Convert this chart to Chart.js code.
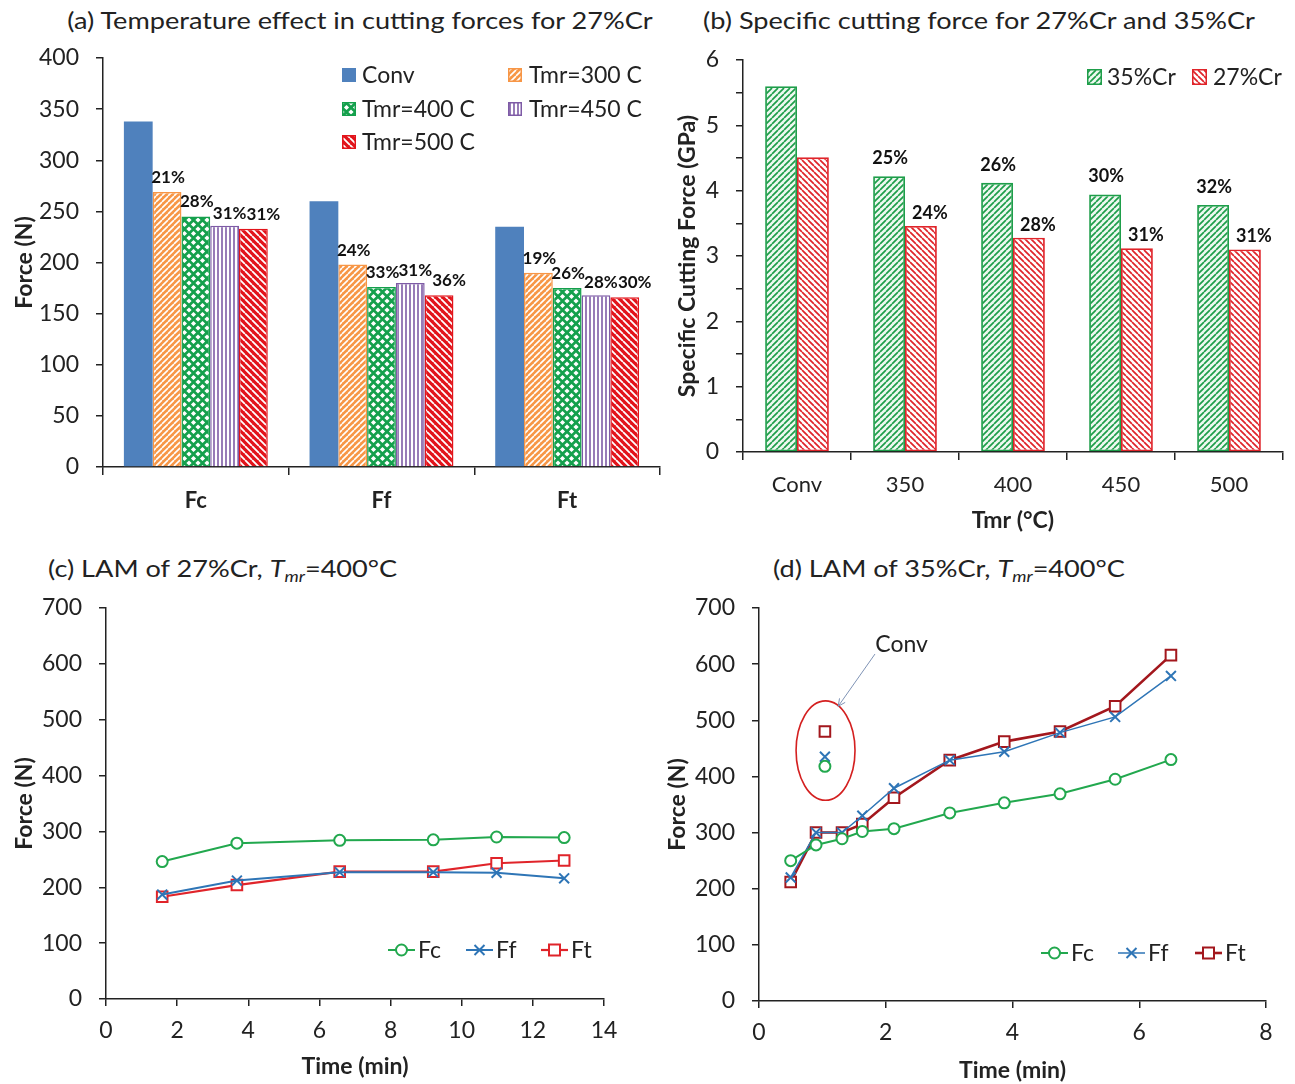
<!DOCTYPE html>
<html>
<head>
<meta charset="utf-8">
<script src="https://cdn.jsdelivr.net/npm/chart.js@4.4.1/dist/chart.umd.min.js"></script>
<style>
  body { margin: 0; background: #fff; width: 1295px; height: 1084px; position: relative; overflow: hidden; font-family: Lato, sans-serif; color: #222; }
  canvas { position: absolute; }
  .ttl { position: absolute; font-size: 24px; line-height: 24px; white-space: nowrap; transform: scaleX(1.13); }
  .ttl sub { font-size: 16px; line-height: 0; vertical-align: -5px; }
</style>
</head>
<body>
<div class="ttl" style="left:0;width:720px;text-align:center;top:8px">(a) Temperature effect in cutting forces for 27%Cr</div>
<div class="ttl" style="left:679px;width:600px;text-align:center;top:8px">(b) Specific cutting force for 27%Cr and 35%Cr</div>
<div class="ttl" style="left:48px;top:556px;transform-origin:left center">(c) LAM of 27%Cr, <i>T<sub>mr</sub></i>=400°C</div>
<div class="ttl" style="left:773px;top:556px;transform-origin:left center">(d) LAM of 35%Cr, <i>T<sub>mr</sub></i>=400°C</div>

<canvas id="chartA" width="670" height="490" style="left:0;top:40px"></canvas>
<canvas id="chartB" width="625" height="500" style="left:670px;top:40px"></canvas>
<canvas id="chartC" width="650" height="499" style="left:0;top:585px"></canvas>
<canvas id="chartD" width="645" height="499" style="left:650px;top:585px"></canvas>

<script>
'use strict';

// -------------------- data --------------------
// (a) cutting forces, 27%Cr
const forceCats = ['Fc', 'Ff', 'Ft'];
const convForce = [338, 260, 235];
const t300Force = [269, 198, 190];
const t400Force = [245, 176, 175];
const t450Force = [236, 180, 168];
const t500Force = [233, 168, 166];
const t300Pct = ['21%', '24%', '19%'];
const t400Pct = ['28%', '33%', '26%'];
const t450Pct = ['31%', '31%', '28%'];
const t500Pct = ['31%', '36%', '30%'];

// (b) specific cutting force
const tmrCats = ['Conv', '350', '400', '450', '500'];
const kc35 = [5.6, 4.22, 4.12, 3.94, 3.78];
const kc27 = [4.51, 3.46, 3.28, 3.12, 3.1];
const kc35Pct = ['', '25%', '26%', '30%', '32%'];
const kc27Pct = ['', '24%', '28%', '31%', '31%'];

// (c) LAM of 27%Cr
const timeC = [1.58, 3.68, 6.57, 9.2, 10.98, 12.88];
const fcC = [246, 279, 284, 285, 290, 289];
const ffC = [187, 212, 227, 227, 226, 216];
const ftC = [183, 204, 228, 228, 243, 248];

// (d) LAM of 35%Cr
const timeD = [0.5, 0.9, 1.31, 1.63, 2.13, 3.01, 3.87, 4.75, 5.62, 6.5];
const fcD = [250, 278, 289, 302, 307, 335, 353, 369, 395, 430];
const ffD = [220, 300, 300, 330, 379, 429, 444, 478, 506, 579];
const ftD = [212, 300, 300, 315, 362, 429, 462, 480, 525, 616];
const convTime = [1.04];
const convFc = [418];
const convFf = [435];
const convFt = [480];

// -------------------- styles --------------------
Chart.defaults.font.family = 'Lato';
Chart.defaults.color = '#222';
const AX = '#222';
const BLUE = '#4F81BD';
const ORANGE = '#F79646';
const GREEN4 = '#14A04C';
const PURPLE = '#7E5BA6';
const RED5 = '#E2141B';
const GREEN = '#1E9E4A';
const RED = '#E0242A';
const C_FC = '#22A84E';
const C_FF = '#2E75B6';

function hatch(bg, fg, size, lw, dir) {
  const c = document.createElement('canvas');
  c.width = c.height = size;
  const g = c.getContext('2d');
  g.fillStyle = bg;
  g.fillRect(0, 0, size, size);
  g.strokeStyle = fg;
  g.lineWidth = lw;
  g.beginPath();
  if (dir === '/') {
    for (let k = -1; k <= 1; k++) {
      g.moveTo(k * size, size);
      g.lineTo(size + k * size, 0);
    }
  } else if (dir === '\\') {
    for (let k = -1; k <= 1; k++) {
      g.moveTo(k * size, 0);
      g.lineTo(size + k * size, size);
    }
  } else {
    g.moveTo(size / 2, 0);
    g.lineTo(size / 2, size);
  }
  g.stroke();
  return g.createPattern(c, 'repeat');
}

function diamonds(bg, fg, size, r) {
  const c = document.createElement('canvas');
  c.width = c.height = size;
  const g = c.getContext('2d');
  g.fillStyle = bg;
  g.fillRect(0, 0, size, size);
  g.fillStyle = fg;
  [[size / 2, size / 2], [0, 0], [size, 0], [0, size], [size, size]].forEach(([x, y]) => {
    g.beginPath();
    g.moveTo(x, y - r); g.lineTo(x + r, y); g.lineTo(x, y + r); g.lineTo(x - r, y);
    g.closePath();
    g.fill();
  });
  return g.createPattern(c, 'repeat');
}

const pat300 = hatch(ORANGE, '#fff', 6, 1.6, '/');
const pat400 = diamonds(GREEN4, '#fff', 9, 2.6);
const pat450 = hatch('#fff', PURPLE, 4, 1.6, '|');
const pat500 = hatch(RED5, '#fff', 7, 1.8, '\\');
const pat35 = hatch('#eef8f0', GREEN, 6, 1.7, '/');
const pat27 = hatch('#fff', RED, 6, 1.7, '\\');

// -------------------- plugins --------------------
function barLabels(sets, size) {
  return {
    id: 'barLabels',
    afterDatasetsDraw(chart) {
      const ctx = chart.ctx;
      ctx.save();
      ctx.font = 'bold ' + size + 'px Lato';
      ctx.fillStyle = '#111';
      ctx.textAlign = 'center';
      ctx.textBaseline = 'bottom';
      sets.forEach(s => {
        const meta = chart.getDatasetMeta(s.index);
        s.labels.forEach((t, i) => {
          if (!t) return;
          const bar = meta.data[i];
          ctx.fillText(t, bar.x + s.dx, bar.y - s.dy);
        });
      });
      ctx.restore();
    }
  };
}

function boxLegend(items, font) {
  return {
    id: 'boxLegend',
    afterDraw(chart) {
      const ctx = chart.ctx;
      ctx.save();
      ctx.font = font;
      ctx.textBaseline = 'middle';
      items.forEach(it => {
        ctx.fillStyle = it.fill;
        ctx.fillRect(it.x, it.y - it.h / 2, it.w, it.h);
        if (it.border) {
          ctx.strokeStyle = it.border;
          ctx.lineWidth = 1.5;
          ctx.strokeRect(it.x + 0.75, it.y - it.h / 2 + 0.75, it.w - 1.5, it.h - 1.5);
        }
        ctx.fillStyle = '#222';
        ctx.fillText(it.label, it.tx, it.y + 1);
      });
      ctx.restore();
    }
  };
}

function marker(ctx, style, x, y, r, color, lw) {
  ctx.save();
  ctx.strokeStyle = color;
  ctx.lineWidth = lw;
  ctx.fillStyle = '#fff';
  ctx.beginPath();
  if (style === 'circle') {
    ctx.arc(x, y, r, 0, Math.PI * 2);
    ctx.fill(); ctx.stroke();
  } else if (style === 'rect') {
    ctx.rect(x - r, y - r, 2 * r, 2 * r);
    ctx.fill(); ctx.stroke();
  } else {
    ctx.moveTo(x - r, y - r); ctx.lineTo(x + r, y + r);
    ctx.moveTo(x + r, y - r); ctx.lineTo(x - r, y + r);
    ctx.stroke();
  }
  ctx.restore();
}

function lineLegend(items, y) {
  return {
    id: 'lineLegend',
    afterDraw(chart) {
      const ctx = chart.ctx;
      ctx.save();
      ctx.font = '23px Lato';
      ctx.textBaseline = 'middle';
      items.forEach(it => {
        ctx.strokeStyle = it.color;
        ctx.lineWidth = it.lw;
        ctx.beginPath();
        ctx.moveTo(it.x, y);
        ctx.lineTo(it.x + 27, y);
        ctx.stroke();
        marker(ctx, it.style, it.x + 13.5, y, it.r, it.color, 2);
        ctx.fillStyle = '#222';
        ctx.fillText(it.label, it.x + 30, y + 1);
      });
      ctx.restore();
    }
  };
}

// -------------------- common axes --------------------
function yAxis(min, max, step, width, title, titlePad) {
  return {
    min: min, max: max,
    ticks: { stepSize: step, autoSkip: false, font: { size: 23 }, color: '#222', padding: 17 },
    grid: { drawOnChartArea: false, tickLength: 7, color: AX, lineWidth: 1.5 },
    border: { color: AX, width: 1.5 },
    title: { display: true, text: title, font: { size: 23, weight: 'bold' }, color: '#222', padding: { top: titlePad, bottom: 0 } },
    afterFit: s => { s.width = width; s.paddingTop = 0; s.paddingBottom = 0; }
  };
}

// -------------------- (a) --------------------
{
  const ctx = document.getElementById('chartA');
  const barSet = (label, data, fill, border) => ({
    label, data, backgroundColor: fill, borderColor: border || fill, borderWidth: border ? 1.5 : 0,
    categoryPercentage: 0.775, barPercentage: 1
  });
  new Chart(ctx, {
    type: 'bar',
    data: {
      labels: forceCats,
      datasets: [
        barSet('Conv', convForce, BLUE),
        barSet('Tmr=300 C', t300Force, pat300, ORANGE),
        barSet('Tmr=400 C', t400Force, pat400, GREEN4),
        barSet('Tmr=450 C', t450Force, pat450, PURPLE),
        barSet('Tmr=500 C', t500Force, pat500, RED5)
      ]
    },
    options: {
      responsive: false, animation: false, devicePixelRatio: 1,
      layout: { padding: { top: 18, right: 10, left: 0, bottom: 0 } },
      plugins: { legend: { display: false }, tooltip: { enabled: false } },
      scales: {
        x: {
          ticks: { font: { size: 22, weight: 'bold' }, color: '#222', padding: 13 },
          grid: { drawOnChartArea: false, tickLength: 8, color: AX, lineWidth: 1.5, offset: true },
          border: { color: AX, width: 1.5 },
          afterFit: s => { s.height = 63; }
        },
        y: yAxis(0, 400, 50, 103, 'Force (N)', 11)
      }
    },
    plugins: [
      barLabels([
        { index: 1, labels: t300Pct, dx: 1, dy: 6 },
        { index: 2, labels: t400Pct, dx: 1, dy: 6 },
        { index: 3, labels: t450Pct, dx: 5, dy: 4 },
        { index: 4, labels: t500Pct, dx: 10, dy: 6 }
      ], 17),
      boxLegend([
        { label: 'Conv', fill: BLUE, x: 342, y: 35, w: 14, h: 14, tx: 362 },
        { label: 'Tmr=300 C', fill: pat300, border: ORANGE, x: 508, y: 35, w: 14, h: 14, tx: 529 },
        { label: 'Tmr=400 C', fill: pat400, border: GREEN4, x: 342, y: 69, w: 14, h: 14, tx: 362 },
        { label: 'Tmr=450 C', fill: pat450, border: PURPLE, x: 508, y: 69, w: 14, h: 14, tx: 529 },
        { label: 'Tmr=500 C', fill: pat500, border: RED5, x: 342, y: 102, w: 14, h: 14, tx: 362 }
      ], '23px Lato')
    ]
  });
}

// -------------------- (b) --------------------
{
  const ctx = document.getElementById('chartB');
  const barSet = (label, data, fill, border) => ({
    label, data, backgroundColor: fill, borderColor: border, borderWidth: 1.8,
    borderSkipped: false, categoryPercentage: 0.59, barPercentage: 1
  });
  const y = yAxis(0, 6, 0.5, 73, 'Specific Cutting Force (GPa)', 4);
  y.ticks.callback = v => Number.isInteger(v) ? v : '';
  new Chart(ctx, {
    type: 'bar',
    data: {
      labels: tmrCats,
      datasets: [
        barSet('35%Cr', kc35, pat35, GREEN),
        barSet('27%Cr', kc27, pat27, RED)
      ]
    },
    options: {
      responsive: false, animation: false, devicePixelRatio: 1,
      layout: { padding: { top: 20, right: 12, left: 0, bottom: 0 } },
      plugins: { legend: { display: false }, tooltip: { enabled: false } },
      scales: {
        x: {
          ticks: { font: { size: 22 }, color: '#222', padding: 12 },
          grid: { drawOnChartArea: false, tickLength: 8, color: AX, lineWidth: 1.5, offset: true },
          border: { color: AX, width: 1.5 },
          title: { display: true, text: 'Tmr (°C)', font: { size: 23, weight: 'bold' }, color: '#222', padding: { top: 0, bottom: 6 } },
          afterFit: s => { s.height = 88; }
        },
        y: y
      }
    },
    plugins: [
      barLabels([
        { index: 0, labels: kc35Pct, dx: 1, dy: 9 },
        { index: 1, labels: kc27Pct, dx: 9, dy: 4 }
      ], 18),
      boxLegend([
        { label: '35%Cr', fill: pat35, border: GREEN, x: 417, y: 37, w: 15, h: 16, tx: 437 },
        { label: '27%Cr', fill: pat27, border: RED, x: 522, y: 37, w: 15, h: 16, tx: 543 }
      ], '23px Lato')
    ]
  });
}

// -------------------- (c) & (d) --------------------
function series(label, xs, ys, color, style, radius, lw, showLine) {
  return {
    label, data: xs.map((x, i) => ({ x: x, y: ys[i] })),
    borderColor: color, backgroundColor: color, borderWidth: lw, showLine: showLine !== false,
    pointStyle: style, pointRadius: radius, pointBorderWidth: 2,
    pointBackgroundColor: '#fff', pointBorderColor: color, tension: 0
  };
}

function timeAxis(max, height, titlePad) {
  return {
    type: 'linear', min: 0, max: max,
    ticks: { stepSize: 2, font: { size: 23 }, color: '#222', padding: 11 },
    grid: { drawOnChartArea: false, tickLength: 7, color: AX, lineWidth: 1.5 },
    border: { color: AX, width: 1.5 },
    title: { display: true, text: 'Time (min)', font: { size: 23, weight: 'bold' }, color: '#222', padding: { top: 0, bottom: titlePad } },
    afterFit: s => { s.height = height; }
  };
}

{
  const ctx = document.getElementById('chartC');
  new Chart(ctx, {
    type: 'line',
    data: {
      datasets: [
        series('Fc', timeC, fcC, C_FC, 'circle', 5.5, 2),
        series('Ff', timeC, ffC, C_FF, 'crossRot', 7, 2),
        series('Ft', timeC, ftC, RED, 'rect', 7.5, 2.2)
      ]
    },
    options: {
      responsive: false, animation: false, devicePixelRatio: 1,
      layout: { padding: { top: 23, right: 46, left: 0, bottom: 0 } },
      plugins: { legend: { display: false }, tooltip: { enabled: false } },
      scales: {
        x: timeAxis(14, 85, 4),
        y: yAxis(0, 700, 100, 106, 'Force (N)', 11)
      }
    },
    plugins: [
      lineLegend([
        { label: 'Fc', color: C_FC, style: 'circle', r: 5.5, lw: 2, x: 388 },
        { label: 'Ff', color: C_FF, style: 'cross', r: 5, lw: 2, x: 466 },
        { label: 'Ft', color: RED, style: 'rect', r: 5.5, lw: 2.2, x: 541 }
      ], 365)
    ]
  });
}

{
  const ctx = document.getElementById('chartD');
  const DKRED = '#A3171D';
  const ring = { x: 1.05, y: 446, rx: 0.465, ry: 88.5 };
  const note = { text: 'Conv', x: 2.25, y: 635, fromX: 1.83, fromY: 618, toX: 1.25, toY: 525 };
  const convNote = {
    id: 'convNote',
    afterDatasetsDraw(chart) {
      const c = chart.ctx, sx = chart.scales.x, sy = chart.scales.y;
      c.save();
      const cx = sx.getPixelForValue(ring.x), cy = sy.getPixelForValue(ring.y);
      const rx = sx.getPixelForValue(ring.x + ring.rx) - cx;
      const ry = cy - sy.getPixelForValue(ring.y + ring.ry);
      c.strokeStyle = '#D42020';
      c.lineWidth = 1.6;
      c.beginPath();
      c.ellipse(cx, cy, rx, ry, 0, 0, Math.PI * 2);
      c.stroke();
      const x1 = sx.getPixelForValue(note.fromX), y1 = sy.getPixelForValue(note.fromY);
      const x2 = sx.getPixelForValue(note.toX), y2 = sy.getPixelForValue(note.toY);
      c.strokeStyle = '#7F93B5';
      c.lineWidth = 1;
      c.beginPath();
      c.moveTo(x1, y1); c.lineTo(x2, y2);
      const a = Math.atan2(y2 - y1, x2 - x1);
      c.moveTo(x2 - 8 * Math.cos(a - 0.45), y2 - 8 * Math.sin(a - 0.45));
      c.lineTo(x2, y2);
      c.lineTo(x2 - 8 * Math.cos(a + 0.45), y2 - 8 * Math.sin(a + 0.45));
      c.stroke();
      c.font = '23px Lato';
      c.fillStyle = '#222';
      c.textAlign = 'center';
      c.textBaseline = 'middle';
      c.fillText(note.text, sx.getPixelForValue(note.x), sy.getPixelForValue(note.y));
      c.restore();
    }
  };
  new Chart(ctx, {
    type: 'line',
    data: {
      datasets: [
        series('Fc', timeD, fcD, C_FC, 'circle', 5.5, 2),
        series('Ff', timeD, ffD, C_FF, 'crossRot', 7, 1.5),
        series('Ft', timeD, ftD, DKRED, 'rect', 7.5, 2.6),
        series('Fc conv', convTime, convFc, C_FC, 'circle', 5.5, 2, false),
        series('Ff conv', convTime, convFf, C_FF, 'crossRot', 7, 2, false),
        series('Ft conv', convTime, convFt, DKRED, 'rect', 7.5, 2, false)
      ]
    },
    options: {
      responsive: false, animation: false, devicePixelRatio: 1,
      layout: { padding: { top: 23, right: 29, left: 0, bottom: 0 } },
      plugins: { legend: { display: false }, tooltip: { enabled: false } },
      scales: {
        x: timeAxis(8, 83, 0),
        y: yAxis(0, 700, 100, 109, 'Force (N)', 14)
      }
    },
    plugins: [
      convNote,
      lineLegend([
        { label: 'Fc', color: C_FC, style: 'circle', r: 5.5, lw: 2, x: 1041 - 650 },
        { label: 'Ff', color: C_FF, style: 'cross', r: 5, lw: 1.5, x: 1118 - 650 },
        { label: 'Ft', color: DKRED, style: 'rect', r: 5.5, lw: 2.6, x: 1195 - 650 }
      ], 368)
    ]
  });
}
</script>
</body>
</html>
